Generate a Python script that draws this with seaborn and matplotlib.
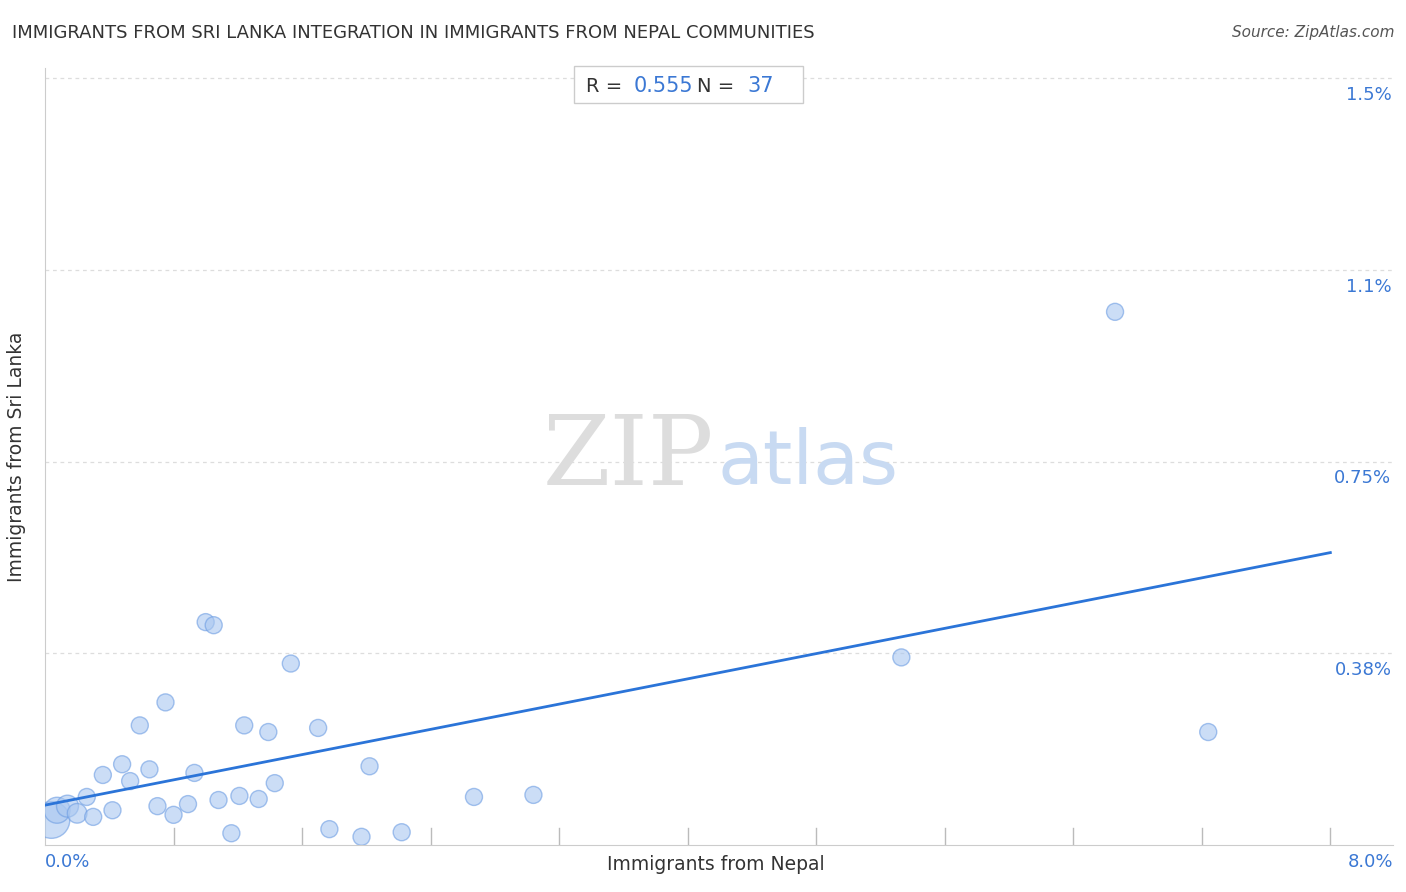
import matplotlib.pyplot as plt
import numpy as np
import pandas as pd
import seaborn as sns

# data (percent)
nepal = [0.04, 0.075, 0.14, 0.2, 0.26, 0.3, 0.36, 0.42, 0.48, 0.53, 0.59, 0.65, 0.70,
         0.75, 0.80, 0.89, 0.93, 1.0, 1.05, 1.08, 1.16, 1.21, 1.24, 1.33, 1.39, 1.43,
         1.53, 1.70, 1.77, 1.97, 2.02, 2.22, 2.67, 3.04, 5.33, 6.66, 7.24]
sri_lanka = [0.049, 0.068, 0.076, 0.062, 0.094, 0.055, 0.137, 0.068, 0.158, 0.125, 0.234,
             0.148, 0.076, 0.279, 0.059, 0.08, 0.141, 0.436, 0.43, 0.088, 0.023, 0.096,
             0.234, 0.09, 0.221, 0.121, 0.355, 0.229, 0.031, 0.016, 0.154, 0.025, 0.094,
             0.098, 0.367, 1.043, 0.221]
sizes = [700, 350, 250, 200] + [150] * 33
trend_x = [0.0, 8.0]
trend_y = [0.078, 0.572]
y_ticks = [0.375, 0.75, 1.125, 1.5]
y_labels = ["0.38%", "0.75%", "1.1%", "1.5%"]
x_ticks = [0.8 * i for i in range(11)]

df = pd.DataFrame({"nepal": nepal, "sri": sri_lanka, "s": sizes})


def fy(py):
    # pixel from top -> figure fraction
    return 1 - py / 892


fig = plt.figure(figsize=(14.06, 8.92), dpi=100)
ax = fig.add_axes([45 / 1406, 47 / 892, 1348 / 1406, 777 / 892])

sns.scatterplot(data=df, x="nepal", y="sri", size="s", sizes=(150, 700), legend=False,
                color="#a9c7f0", edgecolor="#6d9de3", linewidth=1, alpha=0.6, ax=ax, zorder=3)
sns.lineplot(x=trend_x, y=trend_y, color="#2b74d8", linewidth=2, ax=ax, zorder=4)

ax.set_xlim(0, 8.39)
ax.set_ylim(0, 1.52)
ax.set_xticks([])
ax.set_yticks([])
for yt, lab in zip(y_ticks, y_labels):
    ax.axhline(yt, color="#dddddd", linestyle=(0, (3, 3)), linewidth=0.9, zorder=1)
    ax.text(8.38, yt - 0.015, lab, ha="right", va="top", color="#3b78d4", fontsize=13)
for xt in x_ticks[1:]:
    ax.plot([xt, xt], [0, 0.034], color="#bbbbbb", linewidth=1, zorder=1)
for side in ["top", "right"]:
    ax.spines[side].set_visible(False)
ax.spines["left"].set_color("#cccccc")
ax.spines["bottom"].set_color("#cccccc")

ax.set_xlabel("")
ax.set_ylabel("Immigrants from Sri Lanka", fontsize=13.5, color="#333333", labelpad=14)
fig.text(716 / 1406, fy(864), "Immigrants from Nepal", ha="center", va="center",
         fontsize=13.5, color="#333333")
fig.text(45 / 1406, fy(862), "0.0%", ha="left", va="center", fontsize=13, color="#3b78d4")
fig.text(1393 / 1406, fy(862), "8.0%", ha="right", va="center", fontsize=13, color="#3b78d4")

fig.text(12 / 1406, fy(33), "IMMIGRANTS FROM SRI LANKA INTEGRATION IN IMMIGRANTS FROM NEPAL COMMUNITIES",
         ha="left", va="center", fontsize=13, color="#333333")
fig.text(1394 / 1406, fy(33), "Source: ZipAtlas.com", ha="right", va="center",
         fontsize=11, color="#555555", style="italic")

fig.patches.append(plt.Rectangle((574 / 1406, fy(103)), 229 / 1406, 37 / 892,
                                 transform=fig.transFigure, facecolor="white", edgecolor="#cccccc"))
fig.text(628 / 1406, fy(86), "R = ", ha="right", va="center", fontsize=14, color="#333333")
fig.text(634 / 1406, fy(86), "0.555", ha="left", va="center", fontsize=15, color="#3b78d4")
fig.text(741 / 1406, fy(86), "N = ", ha="right", va="center", fontsize=14, color="#333333")
fig.text(747 / 1406, fy(86), "37", ha="left", va="center", fontsize=15, color="#3b78d4")

fig.text(714 / 1406, fy(458), "ZIP", ha="right", va="center", fontsize=70, color="#dddddd",
         family="DejaVu Serif", zorder=0)
fig.text(718 / 1406, fy(464), "atlas", ha="left", va="center", fontsize=54, color="#c8daf2", zorder=0)

fig.savefig("out.png", dpi=100)
